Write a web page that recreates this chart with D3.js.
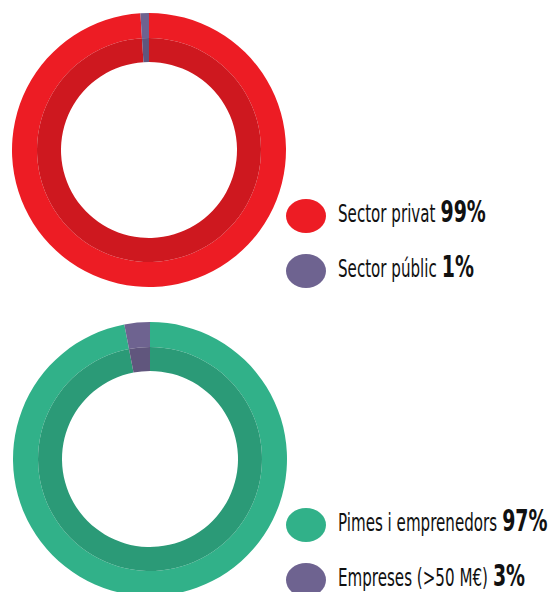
<!DOCTYPE html>
<html>
<head>
<meta charset="utf-8">
<script src="https://cdn.jsdelivr.net/npm/d3@7"></script>
<style>
    body { margin: 0; background: #ffffff; }
    svg { display: block; }
</style>
</head>
<body>
<div id="chart"></div>
<script>
// Donut 1: qui finança
var sectorLabels = ['Sector privat', 'Sector públic'];
var sectorValues = [99, 1];
var sectorColors = ['#ed1c24', '#6e6390'];

// Donut 2: tipus d'empresa
var empresaLabels = ['Pimes i emprenedors', 'Empreses (>50 M€)'];
var empresaValues = [97, 3];
var empresaColors = ['#31b189', '#6e6390'];

var width = 553;
var height = 592;

var outerR = 137;
var midR = 112;
var innerR = 88;

// the original uses a very narrow typeface, squeeze the installed one
var regularScale = 0.70;
var boldScale = 0.68;
var fontFamily = '"DejaVu Sans Condensed", "DejaVu Sans", sans-serif';

var svg = d3.select('#chart')
    .append('svg')
    .attr('width', width)
    .attr('height', height);

function drawDonut(cx, cy, labels, values, colors) {
    var pie = d3.pie().sort(null).value(function (d) { return d; });
    var arcs = pie(values);

    var outerArc = d3.arc().innerRadius(midR).outerRadius(outerR);
    var innerArc = d3.arc().innerRadius(innerR).outerRadius(midR);

    var g = svg.append('g')
        .attr('transform', 'translate(' + cx + ',' + cy + ')');

    g.selectAll('path.outer')
        .data(arcs)
        .enter()
        .append('path')
        .attr('class', 'outer')
        .attr('d', outerArc)
        .attr('fill', function (d, i) { return colors[i]; });

    // inner band is the same colour, a bit darker
    g.selectAll('path.inner')
        .data(arcs)
        .enter()
        .append('path')
        .attr('class', 'inner')
        .attr('d', innerArc)
        .attr('fill', function (d, i) {
            var c = d3.rgb(colors[i]);
            return d3.rgb(c.r * 0.87, c.g * 0.87, c.b * 0.87).formatHex();
        });

    // legend
    var legendX = 306;
    var rowY = [cy + 66, cy + 121];
    var total = d3.sum(values);

    labels.forEach(function (label, i) {
        var row = svg.append('g')
            .attr('transform', 'translate(' + legendX + ',' + rowY[i] + ')');

        row.append('ellipse')
            .attr('cx', 0)
            .attr('cy', 0)
            .attr('rx', 20)
            .attr('ry', 17)
            .attr('fill', colors[i]);

        var txt = row.append('text')
            .attr('x', 0)
            .attr('y', 0)
            .attr('transform', 'translate(32,6) scale(' + regularScale + ',1)')
            .style('font-family', fontFamily)
            .style('font-size', '24px')
            .style('fill', '#111111')
            .text(label);

        var w = txt.node().getComputedTextLength() * regularScale;

        row.append('text')
            .attr('x', 0)
            .attr('y', 0)
            .attr('transform', 'translate(' + (32 + w + 5) + ',6) scale(' + boldScale + ',1)')
            .style('font-family', fontFamily)
            .style('font-size', '31px')
            .style('font-weight', 'bold')
            .style('fill', '#111111')
            .text(Math.round(values[i] / total * 100) + '%');
    });
}

drawDonut(149, 150, sectorLabels, sectorValues, sectorColors);
drawDonut(150, 459, empresaLabels, empresaValues, empresaColors);
</script>
</body>
</html>
